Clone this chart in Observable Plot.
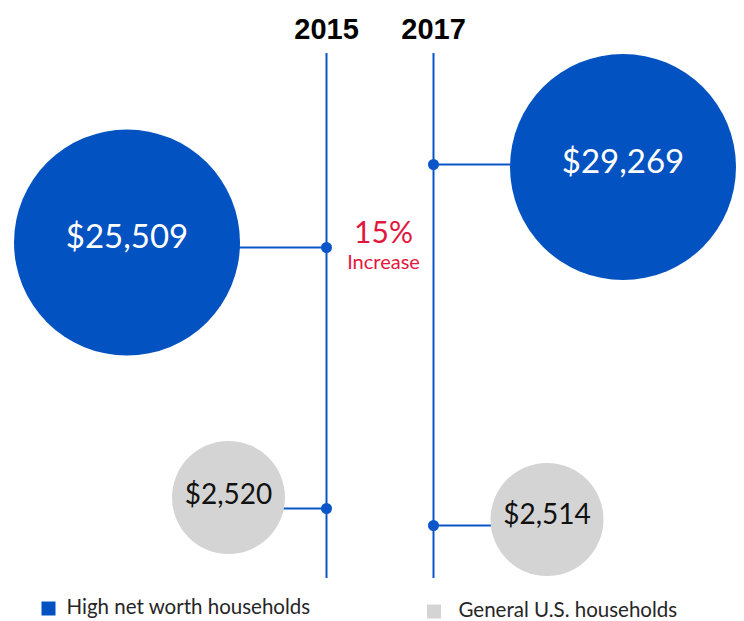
<!DOCTYPE html>
<html><head><meta charset="utf-8">
<script src="https://cdn.jsdelivr.net/npm/d3@7"></script>
<script src="https://cdn.jsdelivr.net/npm/@observablehq/plot@0.6"></script>
<style>html,body{margin:0;padding:0;background:#fff;} #chart svg{display:block}</style>
</head><body><div id="chart"></div>
<script>
// ---- data ----
const years = [2015, 2017];
const seriesNames = ["High net worth households", "General U.S. households"];
const highNetWorth = [25509, 29269];
const generalUS = [2520, 2514];
const changeLabel = "15%";
const changeNote = "Increase";

// ---- layout (schematic, pixels) ----
const W = 744, H = 621;
const PX_PER_YEAR = 53.5, X2015 = 326;
const xs = d3.scaleLinear()
  .domain([2015 - X2015 / PX_PER_YEAR, 2015 + (W - X2015) / PX_PER_YEAR])
  .range([0, W]);
const BLUE = "#0352c1", LINE = "#0a56c9", GRAY = "#d4d4d4", RED = "#e3173e";
const layout = {
  [seriesNames[0]]: {r: 113, fill: BLUE, text: "#ffffff", size: 33,
    pts: {2015: {dx: -199.5, anchor: 247, cy: 242, ty: 237},
          2017: {dx: 189.5, anchor: 164, cy: 166.5, ty: 162}}},
  [seriesNames[1]]: {r: 56.5, fill: GRAY, text: "#111111", size: 28,
    pts: {2015: {dx: -98, anchor: 508, cy: 497, ty: 495},
          2017: {dx: 113.5, anchor: 525, cy: 519, ty: 515}}}
};
const seriesValues = [highNetWorth, generalUS];

const rows = [];
seriesNames.forEach((s, si) => {
  years.forEach((yr, yi) => {
    const L = layout[s], p = L.pts[yr];
    rows.push({
      series: s, year: yr, value: seriesValues[si][yi],
      cx: xs.invert(xs(yr) + p.dx), cy: p.cy, anchor: p.anchor, ty: p.ty
    });
  });
});
const fmt = d3.format("$,");

const legend = [
  {label: seriesNames[0], color: BLUE, sx: 48, sy: 608, tx: 66, ty: 607},
  {label: seriesNames[1], color: GRAY, sx: 433.5, sy: 611, tx: 458, ty: 610}
].map(d => ({...d, sx: xs.invert(d.sx), tx: xs.invert(d.tx)}));

const chart = Plot.plot({
  width: W, height: H,
  marginTop: 0, marginRight: 0, marginBottom: 0, marginLeft: 0,
  x: {domain: xs.domain(), range: [0, W], axis: null},
  y: {domain: [0, H], range: [0, H], axis: null},
  style: {fontFamily: "Lato, 'Open Sans', sans-serif", background: "#ffffff"},
  marks: [
    Plot.ruleX(years, {x: d => d, y1: 53, y2: 578, stroke: LINE, strokeWidth: 2}),
    Plot.link(rows, {x1: "year", x2: "cx", y1: "anchor", y2: "anchor", stroke: LINE, strokeWidth: 2}),
    Plot.dot(rows.filter(d => d.series === seriesNames[0]),
      {x: "cx", y: "cy", r: layout[seriesNames[0]].r, fill: BLUE, stroke: null}),
    Plot.dot(rows.filter(d => d.series === seriesNames[1]),
      {x: "cx", y: "cy", r: layout[seriesNames[1]].r, fill: GRAY, stroke: null}),
    Plot.dot(rows, {x: "year", y: "anchor", r: 5.5, fill: LINE, stroke: null}),
    Plot.text(rows.filter(d => d.series === seriesNames[0]),
      {x: "cx", y: "ty", text: d => fmt(d.value), fill: "#ffffff", fontSize: 33, lineAnchor: "middle"}),
    Plot.text(rows.filter(d => d.series === seriesNames[1]),
      {x: "cx", y: "ty", text: d => fmt(d.value), fill: "#111111", fontSize: 28, lineAnchor: "middle"}),
    Plot.text(years, {x: d => d, y: 29, text: d => String(d), fontFamily: "'Liberation Sans', Arial, sans-serif",
      fontWeight: "bold", fontSize: 29, fill: "#000000", lineAnchor: "middle"}),
    Plot.text([changeLabel], {x: d3.mean(years), dx: 3.5, y: 233, text: d => d, fill: RED, fontSize: 30, lineAnchor: "middle"}),
    Plot.text([changeNote], {x: d3.mean(years), dx: 3.5, y: 262, text: d => d, fill: RED, fontSize: 20, lineAnchor: "middle"}),
    Plot.dot(legend, {x: "sx", y: "sy", symbol: "square", r: 7.9, fill: "color", stroke: null}),
    Plot.text(legend, {x: "tx", y: "ty", text: "label", textAnchor: "start", lineAnchor: "middle", fontSize: 20.5, fill: "#262626"})
  ]
});
document.getElementById("chart").appendChild(chart);
</script>
</body></html>
